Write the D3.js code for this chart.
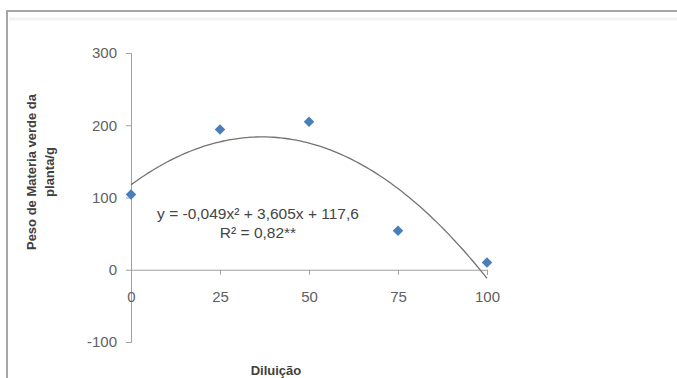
<!DOCTYPE html>
<html>
<head>
<meta charset="utf-8">
<script src="https://cdn.jsdelivr.net/npm/d3@7"></script>
<style>
  html, body { margin: 0; padding: 0; background: #fff; }
  svg { display: block; }
</style>
</head>
<body>
<svg id="chart" width="677" height="378"></svg>
<script>
// Observed green-matter weight per dilution level
const dilutions = [0, 25, 50, 75, 100];
const weights = [104, 194, 205, 54, 10];

// Quadratic fit coefficients: y = a x² + b x + c
const fitA = -0.049, fitB = 3.605, fitC = 117.6;

const xTicks = [0, 25, 50, 75, 100];
const yTicks = [-100, 0, 100, 200, 300];

const equationLines = ["y = -0,049x² + 3,605x + 117,6", "R² = 0,82**"];
const xTitle = "Diluição";
const yTitleLines = ["Peso de Materia verde da", "planta/g"];

const svg = d3.select("#chart");
const font = "'Liberation Sans', Arial, sans-serif";

// Outer frame (runs past the right and bottom edges)
svg.append("rect")
  .attr("x", 7).attr("y", 11)
  .attr("width", 700).attr("height", 400)
  .attr("fill", "#fff")
  .attr("stroke", "#a6a6a6").attr("stroke-width", 2);
svg.append("line")
  .attr("x1", 9).attr("x2", 677).attr("y1", 19).attr("y2", 19)
  .attr("stroke", "#f2f2f2").attr("stroke-width", 3);

const x = d3.scaleLinear().domain([0, 100]).range([131, 487]);
const y = d3.scaleLinear().domain([-100, 300]).range([342, 53]);

const axisColor = "#a0a0a0";
const textColor = "#5f5f5f";
const plainFormat = d => String(d);

// Y axis
const yAxis = svg.append("g")
  .attr("transform", `translate(${x(0)},0)`)
  .call(d3.axisLeft(y).tickValues(yTicks).tickSize(5).tickPadding(9).tickFormat(plainFormat));
yAxis.select(".domain").attr("stroke", axisColor);
yAxis.selectAll(".tick line").attr("stroke", axisColor);
yAxis.selectAll(".tick text")
  .attr("fill", textColor).style("font-family", font).style("font-size", "15px");

// X axis along y = 0, labels set lower
const xAxis = svg.append("g")
  .attr("transform", `translate(0,${y(0)})`)
  .call(d3.axisBottom(x).tickValues(xTicks).tickSize(5).tickPadding(17).tickFormat(plainFormat));
xAxis.select(".domain").attr("stroke", axisColor);
xAxis.selectAll(".tick line").attr("stroke", axisColor);
xAxis.selectAll(".tick text")
  .attr("fill", textColor).style("font-family", font).style("font-size", "15px");

// Fitted curve
const curvePts = d3.range(0, 100.01, 1).map(v => [v, fitA * v * v + fitB * v + fitC]);
svg.append("path")
  .datum(curvePts)
  .attr("fill", "none")
  .attr("stroke", "#737373")
  .attr("stroke-width", 1.3)
  .attr("d", d3.line().x(d => x(d[0])).y(d => y(d[1])).curve(d3.curveBasis));

// Observations as diamonds
svg.append("g").selectAll("path")
  .data(dilutions.map((d, i) => [d, weights[i]]))
  .join("path")
  .attr("transform", d => `translate(${x(d[0])},${y(d[1])})`)
  .attr("d", d3.symbol().type(d3.symbolDiamond2).size(70))
  .attr("fill", "#4a7ebb");

// Equation label
svg.append("g").selectAll("text")
  .data(equationLines)
  .join("text")
  .attr("x", 258)
  .attr("y", (d, i) => 219 + i * 19)
  .attr("text-anchor", "middle")
  .attr("fill", "#454545")
  .style("font-family", font)
  .style("font-size", "15.5px")
  .text(d => d);

// Axis titles
svg.append("text")
  .attr("x", 276).attr("y", 375)
  .attr("text-anchor", "middle")
  .attr("fill", "#404040")
  .style("font-family", font).style("font-size", "13px").style("font-weight", "bold")
  .text(xTitle);

svg.append("g")
  .attr("transform", "translate(36,172) rotate(-90)")
  .selectAll("text")
  .data(yTitleLines)
  .join("text")
  .attr("x", 0)
  .attr("y", (d, i) => i * 18)
  .attr("text-anchor", "middle")
  .attr("fill", "#404040")
  .style("font-family", font).style("font-size", "13px").style("font-weight", "bold")
  .text(d => d);
</script>
</body>
</html>
